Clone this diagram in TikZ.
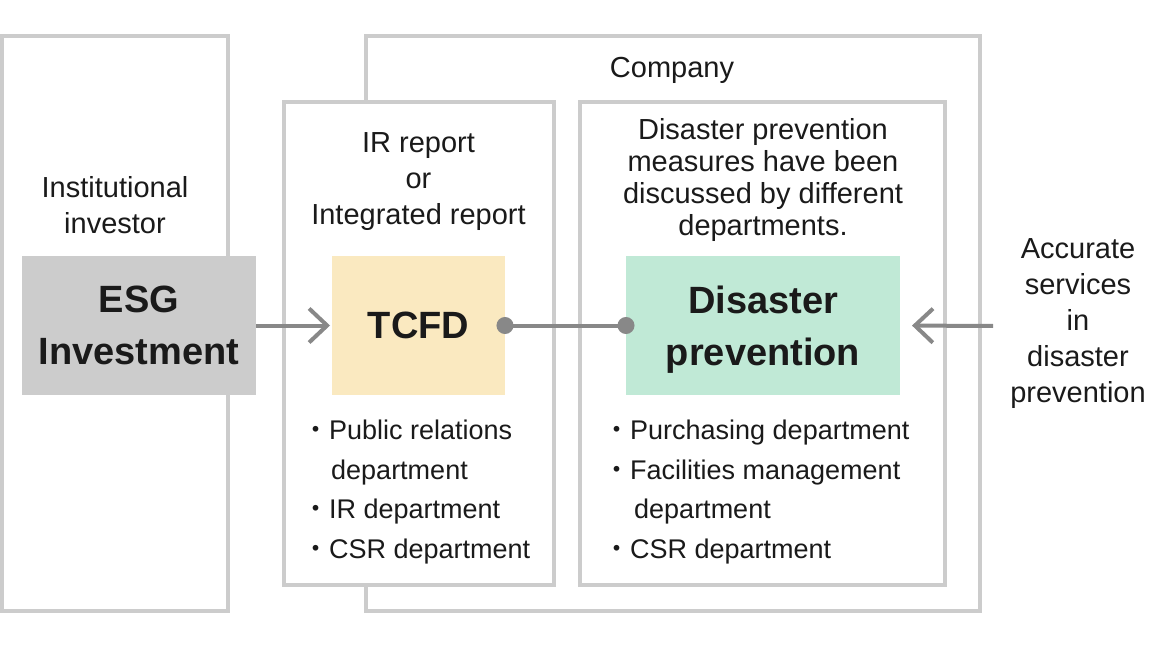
\documentclass[tikz,border=0pt]{standalone}
\usepackage{fontspec}
\setmainfont{Liberation Sans}
\newfontfamily\jpfont{Noto Sans CJK JP}
\usetikzlibrary{arrows.meta, positioning}

\definecolor{framegray}{HTML}{CCCCCC}
\definecolor{linegray}{HTML}{888888}
\definecolor{esggray}{HTML}{CCCCCC}
\definecolor{tcfdyellow}{HTML}{FAE9C0}
\definecolor{dpgreen}{HTML}{C0E9D6}
\definecolor{inkblack}{HTML}{1A1A1A}
\newcommand{\dotitem}{\smash{\jpfont ・}}

\begin{document}
\begin{tikzpicture}[x=1pt, y=-1pt,
  frame/.style={draw=framegray, line width=4pt, fill=white},
  keybox/.style={rectangle, minimum height=139pt, inner sep=0pt, outer sep=0pt, align=center, text=inkblack, text depth=0pt, font=\fontsize{38}{52}\selectfont\bfseries},
  note/.style={align=center, inner sep=0pt, text=inkblack, font=\fontsize{29}{36}\selectfont},
  deptlist/.style={align=left, inner sep=0pt, anchor=north west, text=inkblack, font=\fontsize{27}{39.5}\selectfont},
  flow/.style={draw=linegray, line width=4pt, -{Straight Barb[length=18pt, width=34pt, line width=4pt]}},
  link/.style={draw=linegray, line width=4pt, {Circle[length=17pt]}-{Circle[length=17pt]}, shorten <=-8.5pt, shorten >=-8.5pt}
]
  \useasboundingbox (0,0) rectangle (1160,650);

  % frames
  \draw[frame] (2,36) rectangle (228,611);
  \draw[frame] (366,36) rectangle (980,611);
  \draw[frame] (284,102) rectangle (554,585);
  \draw[frame] (580,102) rectangle (945,585);
  \node[note, anchor=base] (company) at (672,78) {Company};

  % key boxes
  \node[keybox, fill=esggray, minimum width=234pt] (esg) at (139,325.5) {ESG\\Investment};
  \node[keybox, fill=tcfdyellow, minimum width=173pt] (tcfd) at (418.5,325.5) {TCFD};
  \node[keybox, fill=dpgreen, minimum width=274pt] (disaster) at (763,325.5) {Disaster\\prevention};

  % texts
  \node[note, above=22pt of esg, xshift=-24pt] (investor) {Institutional\\investor};
  \node[note, above=25pt of tcfd] (report) {IR report\\or\\Integrated report};
  \node[note, above=14pt of disaster, font=\fontsize{29}{32}\selectfont] (measures) {Disaster prevention\\measures have been\\discussed by different\\departments.};
  \node[note, anchor=north] (services) at (1078,238) {Accurate\\services\\in\\disaster\\prevention};
  \node[deptlist] (irdepts) at (302,420) {\dotitem Public relations\\\hspace{29pt}department\\\dotitem IR department\\\dotitem CSR department};
  \node[deptlist] (dpdepts) at (603,420) {\dotitem Purchasing department\\\dotitem Facilities management\\\hspace{31pt}department\\\dotitem CSR department};

  % connectors
  \coordinate (provider) at (993,326);
  \draw[flow, shorten >=2pt] (esg) -- (tcfd);
  \draw[link] (tcfd) -- (disaster);
  \draw[flow, shorten >=12pt] (provider) -- (disaster.east);
\end{tikzpicture}
\end{document}
